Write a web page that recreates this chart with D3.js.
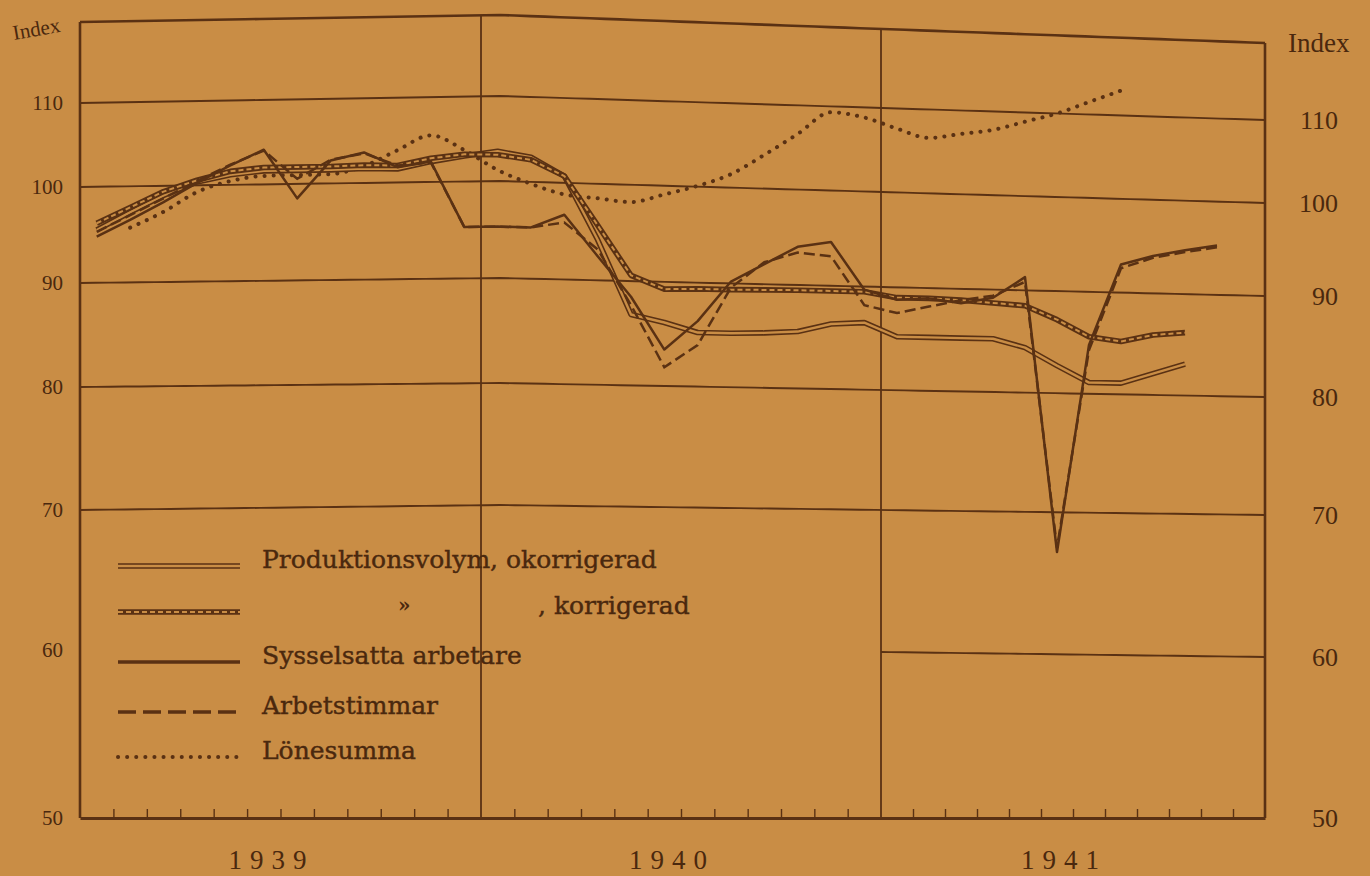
<!DOCTYPE html>
<html><head><meta charset="utf-8">
<script src="https://cdn.jsdelivr.net/npm/d3@7/dist/d3.min.js"></script>
<style>
html,body{margin:0;padding:0;background:#c98d45;}
svg{display:block;}
</style></head>
<body>
<svg id="chart" width="1370" height="876"></svg>
<script>
// ---------------- DATA ----------------
const years = ["1939", "1940", "1941"];
const yTicks = [50, 60, 70, 80, 90, 100, 110];
const seriesNames = ["Produktionsvolym, okorrigerad", ", korrigerad", "Sysselsatta arbetare", "Arbetstimmar", "Lönesumma"];
// monthly values Jan 1939 .. (null = no value)
const prodOkorr = [95.5, 97.3, 99.0, 100.4, 101.2, 101.6, 101.6, 101.6, 101.7, 101.6, 102.4, 103.0,
                   103.5, 102.9, 100.8, 94.2, 86.8, 86.1, 85.2, 85.2, 85.3, 85.5, 86.3, 86.5,
                   85.2, 85.2, 85.2, 85.2, 84.4, 82.7, 81.1, 81.1, 82.1, 83.1];
const prodKorr  = [96.2, 97.8, 99.4, 100.6, 101.6, 102.0, 102.0, 102.0, 102.1, 102.0, 102.8, 103.2,
                   103.1, 102.6, 100.8, 95.7, 90.6, 89.3, 89.4, 89.4, 89.45, 89.5, 89.5, 89.5,
                   89.0, 89.0, 88.9, 88.7, 88.5, 87.2, 85.6, 85.2, 85.9, 86.2];
const syssel    = [94.8, 96.5, 98.3, 100.3, 102.3, 104.1, 98.5, 102.7, 103.6, 101.8, 102.4, 95.3,
                   95.3, 95.3, 96.7, 92.5, 88.5, 83.5, 86.3, 90.2, 92.1, 94.0, 94.6, 89.7,
                   88.8, 89.0, 88.6, 89.2, 91.4, 67.2, 84.8, 93.0, 94.0, 94.7, 95.3];
const arbTim    = [95.3, 97.0, 98.7, 100.5, 102.4, 104.0, 100.6, 102.8, 103.5, 102.0, 102.3, 95.3,
                   95.3, 95.3, 95.9, 93.2, 87.7, 81.8, 84.0, 89.6, 92.3, 93.4, 93.1, 88.2,
                   87.5, 88.2, 88.9, 89.4, 90.9, 67.5, 84.3, 92.6, 93.8, 94.5, 95.1];
const lonesumma = [null, 95.7, 97.3, 99.3, 100.45, 101.0, 101.05, 101.1, 102.0, 103.8, 105.5, 103.7,
                   101.3, 99.8, 98.8, 98.5, 98.2, 99.1, 100.1, 101.6, 104.0, 106.6, 109.3, 108.8,
                   107.6, 106.6, 107.2, 107.8, 108.9, 110.0, 111.6, 113.2];

// ---------------- LAYOUT ----------------
const paper = "#c98d45", ink = "#5a3113", textInk = "#4a280e";
const left = 80, right = 1265, bottom = 818;
const svg = d3.select("#chart");
svg.append("rect").attr("width", 1370).attr("height", 876).attr("fill", paper);

// x: months 0..36 (photo perspective: slightly uneven per year)
const x = d3.scaleLinear().domain([0, 12, 24, 36]).range([left, 481, 881, right]);

// y: the printed page is photographed with perspective, so the value->pixel
// mapping differs a little across the width; three scales are blended in x.
const yDom = [50, 60, 70, 80, 90, 100, 110, 120];
const yL = d3.scaleLinear().domain(yDom).range([818, 650, 510, 387, 283, 187, 103, 22]);
const yM = d3.scaleLinear().domain(yDom).range([818, 647, 505, 383, 278, 181, 96, 15]);
const yR = d3.scaleLinear().domain(yDom).range([818, 657, 515, 397, 296, 203, 120, 43]);
const xAnch = [left, 500, right];
function Y(v, px) {
  return d3.scaleLinear().domain(xAnch).range([yL(v), yM(v), yR(v)])(px);
}
const xs = d3.range(left, right + 1, 15).concat([right]);

const g = svg.append("g");

// horizontal gridlines
const gridLine = d3.line().x(d => d[0]).y(d => d[1]);
[70, 80, 90, 100, 110].forEach(v => {
  g.append("path").attr("d", gridLine(xs.map(px => [px, Y(v, px)])))
    .attr("fill", "none").attr("stroke", ink).attr("stroke-width", 1.9);
});
// 60 line only in 1941
const xs41 = xs.filter(px => px >= x(24));
g.append("path").attr("d", gridLine([[x(24), Y(60, x(24))]].concat(xs41.map(px => [px, Y(60, px)]))))
  .attr("fill", "none").attr("stroke", ink).attr("stroke-width", 1.9);
// top border
g.append("path").attr("d", gridLine(xs.map(px => [px, Y(120, px)])))
  .attr("fill", "none").attr("stroke", ink).attr("stroke-width", 2.6);
// left / right borders and year separators
[0, 12, 24, 36].forEach(m => {
  const px = x(m);
  g.append("line").attr("x1", px).attr("x2", px).attr("y1", Y(120, px)).attr("y2", bottom)
    .attr("stroke", ink).attr("stroke-width", (m === 0 || m === 36) ? 2.6 : 1.8);
});

// bottom axis with month ticks
const bAxis = d3.axisBottom(x).tickValues(d3.range(1, 36).filter(m => m % 12 !== 0))
  .tickSize(-9).tickSizeOuter(0).tickFormat("");
const bg = svg.append("g").attr("transform", `translate(0,${bottom})`).call(bAxis);
bg.select(".domain").attr("stroke", ink).attr("stroke-width", 3);
bg.selectAll(".tick line").attr("stroke", ink).attr("stroke-width", 1.4);

// left axis labels
const la = svg.append("g").attr("transform", `translate(63,0)`)
  .call(d3.axisLeft(yL).tickValues(yTicks).tickSize(0).tickPadding(0));
la.select(".domain").remove();
la.selectAll("text").attr("font-family", "Liberation Serif, DejaVu Serif, serif")
  .attr("font-size", 21).attr("fill", textInk);
// right axis labels (right-aligned)
const ra = svg.append("g").attr("transform", `translate(1338,0)`)
  .call(d3.axisLeft(yR).tickValues(yTicks).tickSize(0).tickPadding(0));
ra.select(".domain").remove();
ra.selectAll("text").attr("font-family", "Liberation Serif, DejaVu Serif, serif")
  .attr("font-size", 26).attr("fill", textInk);

// "Index" labels
svg.append("text").text("Index").attr("x", 14).attr("y", 40)
  .attr("transform", "rotate(-10,14,40)")
  .attr("font-family", "Liberation Serif, serif").attr("font-size", 21).attr("fill", textInk);
svg.append("text").text("Index").attr("x", 1288).attr("y", 52)
  .attr("font-family", "Liberation Serif, serif").attr("font-size", 27).attr("fill", textInk);

// year labels
svg.selectAll(".yr").data(years).enter().append("text")
  .attr("x", (d, i) => x(i * 12 + 6) - 9).attr("y", 869)
  .attr("text-anchor", "middle").attr("letter-spacing", 8)
  .attr("font-family", "Liberation Serif, serif").attr("font-size", 27).attr("fill", textInk)
  .text(d => d);

// ---------------- SERIES ----------------
function pts(arr) { return arr.map((v, i) => ({ i, v })); }
const line = d3.line().defined(d => d.v != null)
  .x(d => x(d.i + 0.5)).y(d => Y(d.v, x(d.i + 0.5)));
const smooth = d3.line().defined(d => d.v != null).curve(d3.curveMonotoneX)
  .x(d => x(d.i + 0.5)).y(d => Y(d.v, x(d.i + 0.5)));

const kinds = ["double", "hatched", "solid", "dashed", "dotted"];
function drawStyled(sel, d, kind, legend) {
  if (kind === "double") {
    sel.append("path").attr("d", d).attr("fill", "none").attr("stroke", ink).attr("stroke-width", 5.6).attr("stroke-linejoin", "round");
    sel.append("path").attr("d", d).attr("fill", "none").attr("stroke", paper).attr("stroke-width", 2.4).attr("stroke-linejoin", "round");
  } else if (kind === "hatched") {
    sel.append("path").attr("d", d).attr("fill", "none").attr("stroke", ink).attr("stroke-width", 5.6).attr("stroke-linejoin", "round");
    sel.append("path").attr("d", d).attr("fill", "none").attr("stroke", paper).attr("stroke-width", 2)
      .attr("stroke-dasharray", "5,3").attr("stroke-linejoin", "round");
  } else if (kind === "solid") {
    sel.append("path").attr("d", d).attr("fill", "none").attr("stroke", ink).attr("stroke-width", legend ? 3.6 : 2.5).attr("stroke-linejoin", "round");
  } else if (kind === "dashed") {
    sel.append("path").attr("d", d).attr("fill", "none").attr("stroke", ink).attr("stroke-width", legend ? 3.6 : 2.5)
      .attr("stroke-dasharray", legend ? "18,7" : "11,5");
  } else {
    sel.append("path").attr("d", d).attr("fill", "none").attr("stroke", ink).attr("stroke-width", 4)
      .attr("stroke-dasharray", "0.1,9").attr("stroke-linecap", "round");
  }
}
const sg = svg.append("g");
drawStyled(sg.append("g"), smooth(pts(lonesumma)), "dotted");
drawStyled(sg.append("g"), line(pts(prodOkorr)), "double");
drawStyled(sg.append("g"), line(pts(prodKorr)), "hatched");
drawStyled(sg.append("g"), line(pts(arbTim)), "dashed");
drawStyled(sg.append("g"), line(pts(syssel)), "solid");

// ---------------- LEGEND ----------------
const legRows = [566, 612, 662, 712, 757];
const lg = svg.append("g");
seriesNames.forEach((name, k) => {
  const yy = legRows[k];
  drawStyled(lg.append("g"), d3.line()([[118, yy], [240, yy]]), kinds[k], true);
  lg.append("text").attr("x", k === 1 ? 538 : 262).attr("y", yy + 2)
    .attr("font-family", "DejaVu Serif, serif").attr("font-size", 25).attr("fill", textInk)
    .attr("stroke", textInk).attr("stroke-width", 0.4)
    .text(name);
});
lg.append("text").attr("x", 398).attr("y", 612).text("»")
  .attr("font-family", "DejaVu Serif, serif").attr("font-size", 20).attr("font-weight", "bold").attr("fill", textInk);
</script>
</body></html>
